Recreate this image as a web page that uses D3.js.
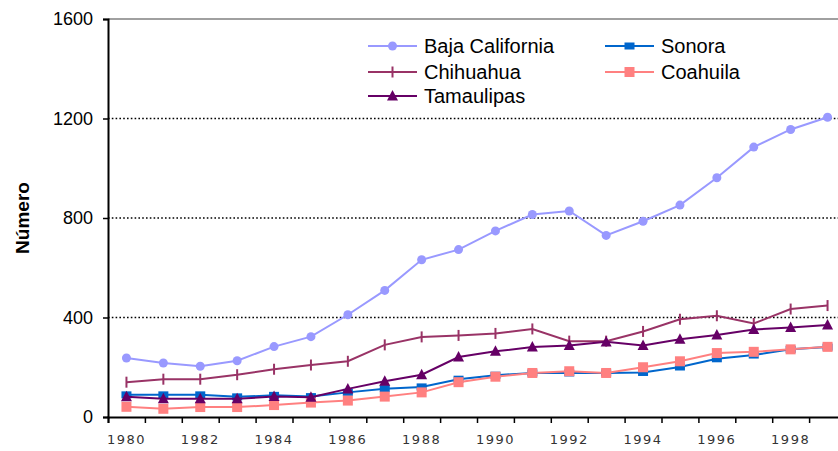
<!DOCTYPE html>
<html>
<head>
<meta charset="utf-8">
<script src="https://cdn.jsdelivr.net/npm/d3@7"></script>
<style>
  html, body { margin: 0; padding: 0; background: #fff; }
  svg { display: block; }
</style>
</head>
<body>
<svg id="chart" width="838" height="451"></svg>
<script>
// Years on the category axis
const years = d3.range(1980, 2000);
const yearLabels = [1980, 1982, 1984, 1986, 1988, 1990, 1992, 1994, 1996, 1998];
const yTicks = [0, 400, 800, 1200, 1600];

// Series values, one per year
const bajaCalifornia = [237, 217, 204, 226, 283, 323, 411, 509, 632, 673, 748, 814, 828, 730, 787, 852, 962, 1085, 1156, 1205];
const sonora        = [89, 89, 89, 81, 87, 82, 99, 114, 121, 152, 168, 177, 177, 177, 179, 201, 234, 249, 272, 281];
const chihuahua     = [140, 152, 152, 170, 192, 209, 224, 290, 322, 328, 336, 354, 305, 305, 344, 393, 407, 376, 434, 448];
const coahuila      = [41, 33, 40, 40, 48, 58, 66, 82, 99, 140, 162, 177, 184, 177, 200, 224, 257, 262, 272, 282];
const tamaulipas    = [81, 73, 73, 73, 82, 79, 113, 144, 170, 241, 264, 281, 287, 302, 287, 313, 330, 352, 360, 370];

const seriesNames = ["Baja California", "Sonora", "Chihuahua", "Coahuila", "Tamaulipas"];
const seriesValues = [bajaCalifornia, sonora, chihuahua, coahuila, tamaulipas];
const seriesColors = ["#9999FF", "#0066CC", "#993366", "#FF8080", "#660066"];
const seriesMarkers = ["circle", "rect", "bar", "square", "triangle"];

const svg = d3.select("#chart");

const left = 108, bandW = 36.9;
const x = d3.scaleBand().domain(years).range([left, left + years.length * bandW]).padding(0);
const xEdge = d3.scaleLinear().domain([0, years.length]).range([left, left + years.length * bandW]);
const y = d3.scaleLinear().domain([0, 1600]).range([417, 19]);
const cx = d => x(d) + x.bandwidth() / 2;

// Horizontal gridlines
const grid = svg.append("g");
grid.selectAll("line.dot").data(yTicks.filter(v => v > 0 && v < 1600)).join("line")
  .attr("x1", left).attr("x2", 838)
  .attr("y1", d => y(d)).attr("y2", d => y(d))
  .attr("stroke", "#000").attr("stroke-width", 1.6).attr("stroke-dasharray", "1.6,2.2");
grid.append("line")
  .attr("x1", left).attr("x2", 838).attr("y1", y(1600)).attr("y2", y(1600))
  .attr("stroke", "#808080").attr("stroke-width", 1.5);

// Y axis
const yAxis = svg.append("g").attr("transform", `translate(${left},0)`)
  .call(d3.axisLeft(y).tickValues(yTicks).tickSize(5).tickPadding(10).tickFormat(d3.format("d")));
yAxis.select(".domain").attr("stroke", "#000").attr("stroke-width", 2);
yAxis.selectAll(".tick line").attr("stroke", "#000").attr("stroke-width", 1.5);
yAxis.selectAll(".tick text").attr("font-family", "Liberation Sans, Arial, sans-serif")
  .attr("font-size", 18).attr("fill", "#000");

// X axis: tick marks on category boundaries
const xAxis = svg.append("g").attr("transform", `translate(0,${y(0)})`)
  .call(d3.axisBottom(xEdge).tickValues(d3.range(years.length + 1)).tickSize(6).tickFormat(""));
xAxis.select(".domain").attr("stroke", "#000").attr("stroke-width", 2);
xAxis.selectAll(".tick line").attr("stroke", "#000").attr("stroke-width", 1.5);

// X labels at category centers
const xLab = svg.append("g").attr("transform", `translate(0,${y(0)})`)
  .call(d3.axisBottom(x).tickValues(yearLabels).tickSize(0).tickPadding(18));
xLab.select(".domain").remove();
xLab.selectAll(".tick text").attr("font-family", "DejaVu Sans, sans-serif")
  .attr("font-size", 13).attr("letter-spacing", "1.5px").attr("fill", "#333");

// Axis title
svg.append("text")
  .attr("transform", `translate(29,${(y(0) + y(1600)) / 2}) rotate(-90)`)
  .attr("text-anchor", "middle")
  .attr("font-family", "Liberation Sans, Arial, sans-serif")
  .attr("font-weight", "bold").attr("font-size", 19)
  .text("Número");

// Marker drawing
function marker(sel, type, color) {
  if (type === "circle") {
    sel.append("circle").attr("r", 4.5).attr("fill", color);
  } else if (type === "rect") {
    sel.append("rect").attr("x", -5).attr("y", -3.5).attr("width", 10).attr("height", 7).attr("fill", color);
  } else if (type === "square") {
    sel.append("rect").attr("x", -5).attr("y", -5).attr("width", 10).attr("height", 10).attr("fill", color);
  } else if (type === "triangle") {
    sel.append("path").attr("d", "M0,-6L5.5,4.5L-5.5,4.5Z").attr("fill", color);
  } else if (type === "bar") {
    sel.append("line").attr("y1", -5.5).attr("y2", 5.5).attr("stroke", color).attr("stroke-width", 2);
  }
}

const line = d3.line().x((d, i) => cx(years[i])).y(d => y(d));

seriesValues.forEach((vals, k) => {
  const g = svg.append("g");
  g.append("path").datum(vals).attr("d", line)
    .attr("fill", "none").attr("stroke", seriesColors[k]).attr("stroke-width", 2);
  g.selectAll("g.m").data(vals).join("g")
    .attr("transform", (d, i) => `translate(${cx(years[i])},${y(d)})`)
    .each(function () { marker(d3.select(this), seriesMarkers[k], seriesColors[k]); });
});

// Legend
const legendPos = [[368, 46], [605, 46], [368, 72], [605, 72], [368, 96]];
seriesNames.forEach((name, k) => {
  const [lx, ly] = legendPos[k];
  const g = svg.append("g").attr("transform", `translate(${lx},${ly})`);
  g.append("line").attr("x1", 0).attr("x2", 49).attr("y1", 0).attr("y2", 0)
    .attr("stroke", seriesColors[k]).attr("stroke-width", 2);
  marker(g.append("g").attr("transform", "translate(24.5,0)"), seriesMarkers[k], seriesColors[k]);
  g.append("text").attr("x", 56).attr("y", 0).attr("dy", "0.35em")
    .attr("font-family", "Liberation Sans, Arial, sans-serif").attr("font-size", 20)
    .text(name);
});
</script>
</body>
</html>
